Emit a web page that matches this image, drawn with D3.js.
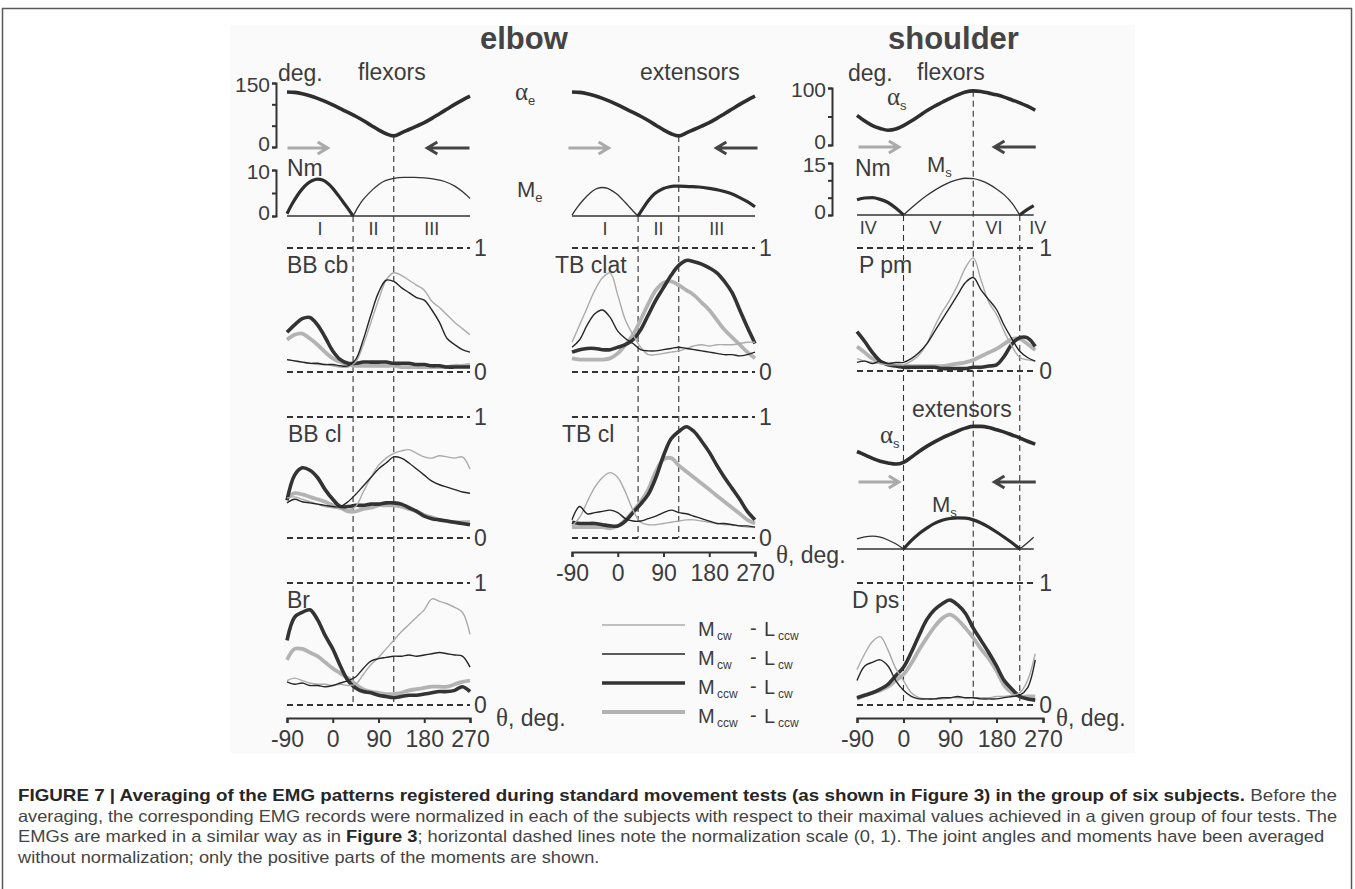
<!DOCTYPE html>
<html>
<head>
<meta charset="utf-8">
<script src="https://cdn.jsdelivr.net/npm/d3@7"></script>
<style>
  body { margin: 0; background: #fff; }
  text { font-family: "Liberation Sans", Arial, sans-serif; fill: #3c3c3c; }
</style>
</head>
<body>
<svg id="fig" width="1355" height="889"></svg>
<script>
// ---- angle grids (deg) ----
const thetaElbow = d3.range(-90, 271, 15);     // -90 .. 270
const thetaShoulder = d3.range(-90, 256, 15);  // -90 .. 255 (shoulder traces stop there)

// ---- joint angles (deg) ----
const elbowAngle = [129,128,125,120,114,107,99,90,81,72,62,51,40,31,26,33,41,49,57,67,78,89,100,110,119];
const shoulderFlexAngle = [52,42,34,29,26,28,34,42,51,60,68,75,82,88,93,95,94,91,88,84,79,74,68,61];
const shoulderExtAngle = [50,44,38,33,30,28,31,40,50,59,67,74,80,86,91,94,94,92,88,84,79,74,68,63];

// ---- joint moments (Nm), only positive parts, [deg, value] ----
const elbowFlexMomThick = [[-90,0.5],[-80,2.6],[-70,4.4],[-60,5.9],[-50,7.0],[-40,7.7],[-30,8.0],[-20,7.8],[-10,7.1],[0,6.0],[10,4.6],[20,3.1],[30,1.6],[40,0]];
const elbowFlexMomThin = [[40,0],[50,2.0],[60,3.6],[70,4.8],[80,5.9],[90,6.8],[100,7.5],[110,7.9],[120,8.2],[140,8.4],[160,8.4],[180,8.3],[200,8.0],[220,7.5],[240,6.5],[255,5.3],[270,3.8]];
const elbowExtMomThin = [[-90,0.2],[-80,1.8],[-70,3.2],[-60,4.4],[-50,5.4],[-40,6.0],[-30,6.2],[-20,6.0],[-10,5.4],[0,4.6],[10,3.5],[20,2.3],[30,1.1],[40,0]];
const elbowExtMomThick = [[40,0],[50,1.7],[60,3.3],[70,4.6],[80,5.4],[90,6.0],[100,6.3],[110,6.5],[120,6.5],[140,6.4],[160,6.3],[180,6.0],[200,5.6],[220,5.0],[240,4.0],[255,3.1],[270,2.0]];
const shFlexMomThick1 = [[-90,4.4],[-75,4.9],[-60,5.0],[-45,4.5],[-30,3.6],[-15,2.0],[0,0]];
const shFlexMomThin = [[0,0],[15,2.0],[30,3.9],[45,5.6],[60,7.1],[75,8.4],[90,9.5],[105,10.2],[120,10.6],[135,10.5],[150,9.9],[165,8.9],[180,7.5],[195,5.8],[210,3.4],[225,0]];
const shFlexMomThick2 = [[225,0],[240,1.6],[252,2.7]];
const shExtMomThin1 = [[-90,2.9],[-75,3.5],[-60,3.7],[-45,3.4],[-30,2.6],[-15,1.5],[0,0]];
const shExtMomThick = [[0,0],[15,2.4],[30,4.4],[45,6.0],[60,7.4],[75,8.3],[90,8.8],[105,9.0],[120,8.9],[135,8.4],[150,7.5],[165,6.3],[180,4.9],[195,3.4],[210,1.8],[225,0]];
const shExtMomThin2 = [[225,0],[240,1.8],[252,3.4]];

// ---- normalized EMG (0..1); cwccw = Mcw-Lccw, cwcw = Mcw-Lcw, ccwcw = Mccw-Lcw, ccwccw = Mccw-Lccw ----
const bbcb_cwccw  = [.10,.09,.08,.07,.06,.06,.05,.04,.04,.08,.22,.40,.58,.74,.80,.78,.74,.70,.66,.57,.52,.46,.40,.35,.30];
const bbcb_cwcw   = [.10,.09,.08,.07,.07,.06,.06,.05,.05,.10,.26,.46,.64,.74,.73,.68,.64,.60,.58,.50,.40,.27,.22,.18,.16];
const bbcb_ccwcw  = [.32,.38,.43,.44,.38,.28,.17,.10,.07,.07,.08,.08,.08,.08,.07,.07,.07,.06,.06,.05,.05,.04,.04,.04,.04];
const bbcb_ccwccw = [.26,.30,.31,.27,.22,.16,.11,.08,.06,.05,.05,.05,.05,.05,.05,.04,.04,.04,.04,.04,.04,.04,.05,.05,.06];

const bbcl_cwccw  = [.33,.34,.32,.30,.28,.26,.25,.24,.23,.26,.38,.50,.60,.66,.70,.72,.73,.70,.67,.66,.68,.67,.66,.67,.57];
const bbcl_cwcw   = [.29,.32,.30,.29,.28,.27,.26,.26,.30,.36,.43,.50,.57,.62,.67,.66,.62,.57,.52,.47,.44,.42,.40,.38,.37];
const bbcl_ccwcw  = [.31,.52,.58,.56,.50,.40,.32,.26,.26,.27,.27,.28,.28,.29,.29,.28,.25,.22,.18,.16,.15,.14,.13,.12,.11];
const bbcl_ccwccw = [.33,.37,.36,.34,.32,.30,.27,.25,.22,.22,.24,.25,.27,.27,.27,.26,.24,.22,.19,.17,.15,.14,.13,.13,.13];

const br_cwccw  = [.20,.22,.20,.18,.17,.17,.16,.17,.16,.17,.25,.33,.39,.46,.53,.60,.66,.72,.78,.87,.85,.83,.80,.76,.58];
const br_cwcw   = [.19,.17,.18,.16,.16,.15,.16,.18,.20,.23,.30,.36,.38,.39,.40,.40,.41,.40,.41,.42,.43,.42,.41,.40,.31];
const br_ccwcw  = [.53,.72,.76,.78,.70,.57,.46,.32,.20,.14,.11,.10,.08,.07,.06,.07,.08,.08,.09,.10,.11,.11,.12,.15,.11];
const br_ccwccw = [.37,.46,.46,.43,.40,.35,.30,.26,.22,.17,.13,.11,.10,.09,.09,.10,.12,.13,.14,.15,.15,.15,.17,.19,.20];

const tbclat_cwccw  = [.24,.38,.52,.66,.76,.80,.62,.42,.30,.20,.14,.14,.15,.16,.17,.19,.21,.22,.21,.22,.22,.22,.23,.24,.24];
const tbclat_cwcw   = [.20,.26,.38,.47,.50,.44,.33,.27,.23,.18,.17,.17,.18,.19,.20,.19,.18,.17,.16,.15,.14,.14,.13,.14,.16];
const tbclat_ccwcw  = [.16,.18,.19,.19,.18,.18,.20,.22,.26,.34,.46,.58,.68,.78,.86,.90,.89,.87,.84,.80,.73,.64,.50,.36,.23];
const tbclat_ccwccw = [.11,.10,.10,.10,.10,.11,.15,.22,.30,.42,.55,.66,.72,.73,.70,.66,.62,.56,.50,.42,.34,.28,.22,.16,.11];

const tbcl_cwccw  = [.10,.17,.30,.42,.50,.54,.50,.38,.23,.13,.11,.11,.12,.13,.14,.15,.15,.14,.13,.12,.11,.11,.10,.09,.09];
const tbcl_cwcw   = [.15,.26,.20,.21,.22,.23,.21,.16,.14,.14,.16,.18,.21,.23,.21,.20,.18,.16,.14,.12,.12,.11,.10,.10,.09];
const tbcl_ccwcw  = [.13,.12,.12,.12,.11,.10,.10,.14,.21,.28,.36,.50,.68,.82,.88,.92,.88,.80,.71,.60,.50,.41,.32,.22,.15];
const tbcl_ccwccw = [.09,.09,.09,.09,.09,.08,.10,.15,.22,.30,.40,.55,.65,.66,.60,.55,.50,.45,.40,.35,.30,.25,.20,.15,.12];

const ppm_cwccw  = [.10,.08,.07,.06,.05,.05,.05,.08,.13,.22,.36,.48,.58,.70,.84,.92,.74,.56,.46,.32,.20,.11,.09,.08];
const ppm_cwcw   = [.07,.08,.06,.08,.06,.07,.07,.10,.15,.22,.32,.42,.52,.62,.72,.76,.66,.58,.50,.37,.26,.16,.11,.08];
const ppm_ccwcw  = [.32,.24,.15,.08,.05,.04,.03,.03,.03,.03,.03,.02,.02,.02,.02,.03,.03,.04,.05,.12,.22,.27,.27,.20];
const ppm_ccwccw = [.20,.15,.10,.07,.06,.05,.04,.04,.04,.04,.04,.04,.05,.06,.07,.09,.12,.15,.18,.22,.26,.26,.22,.17];

const dps_cwccw  = [.29,.42,.52,.56,.45,.30,.20,.10,.06,.05,.05,.05,.06,.06,.06,.06,.06,.06,.07,.07,.08,.10,.20,.42];
const dps_cwcw   = [.20,.32,.35,.37,.32,.20,.12,.07,.05,.05,.05,.06,.06,.07,.06,.06,.05,.05,.05,.06,.07,.08,.14,.37];
const dps_ccwcw  = [.06,.08,.10,.13,.17,.24,.31,.43,.57,.70,.78,.83,.86,.82,.75,.63,.53,.43,.32,.20,.13,.07,.05,.04];
const dps_ccwccw = [.05,.08,.10,.12,.15,.20,.25,.34,.45,.55,.64,.71,.74,.70,.63,.55,.46,.38,.28,.16,.10,.07,.07,.07];

// ---- tick labels / phase labels ----
const thetaTicks = [-90, 0, 90, 180, 270];
const elbowBounds = [40, 120];
const shoulderBounds = [0, 135, 225];
const elbowPhases = [["I", -25], ["II", 80], ["III", 195]];
const shoulderPhases = [["IV", -68], ["V", 62], ["VI", 175], ["IV", 260]];

const captionLines = [
  [["FIGURE 7 | Averaging of the EMG patterns registered during standard movement tests (as shown in Figure 3) in the group of six subjects.", true], [" Before the", false]],
  [["averaging, the corresponding EMG records were normalized in each of the subjects with respect to their maximal values achieved in a given group of four tests. The", false]],
  [["EMGs are marked in a similar way as in ", false], ["Figure 3", true], ["; horizontal dashed lines note the normalization scale (0, 1). The joint angles and moments have been averaged", false]],
  [["without normalization; only the positive parts of the moments are shown.", false]]
];

// ================= drawing =================
const svg = d3.select('#fig');
const DARK = '#333';
const SERIF = '"Liberation Serif", "DejaVu Serif", serif';

svg.append('rect').attr('x', 2.5).attr('y', 8.5).attr('width', 1349).attr('height', 900)
  .attr('fill', '#fff').attr('stroke', '#5a5a5a').attr('stroke-width', 1.5);
svg.append('rect').attr('x', 230).attr('y', 25).attr('width', 905).attr('height', 728).attr('fill', '#fafafa');

const xFlex = d3.scaleLinear().domain([-90, 270]).range([287, 470]);
const xExt = d3.scaleLinear().domain([-90, 270]).range([572, 755]);
const xSh = d3.scaleLinear().domain([-90, 270]).range([857, 1043]);

const yElbowAng = d3.scaleLinear().domain([0, 150]).range([147, 83]);
const yElbowMom = d3.scaleLinear().domain([0, 10]).range([216, 170]);
const yShFlexAng = d3.scaleLinear().domain([0, 100]).range([145, 88]);
const yShFlexMom = d3.scaleLinear().domain([0, 15]).range([215, 163]);
const yShExtAng = d3.scaleLinear().domain([0, 100]).range([480, 423]);
const yShExtMom = d3.scaleLinear().domain([0, 15]).range([549, 497]);

const traceStyle = {
  cwccw:  { color: '#ababab', width: 1.4 },
  cwcw:   { color: '#262626', width: 1.4 },
  ccwcw:  { color: '#333333', width: 3.6 },
  ccwccw: { color: '#b3b3b3', width: 3.8 }
};
const drawOrder = ['ccwccw', 'ccwcw', 'cwccw', 'cwcw'];

function label(x, y, str, size = 23) {
  return svg.append('text').attr('x', x).attr('y', y).attr('font-size', size).text(str);
}

function subLabel(x, y, main, sub, serif) {
  const t = svg.append('text').attr('x', x).attr('y', y).attr('font-size', serif ? 25 : 22);
  if (serif) t.style('font-family', SERIF);
  t.append('tspan').text(main);
  t.append('tspan').attr('font-size', 13).attr('dy', 5).style('font-family', '"Liberation Sans", Arial, sans-serif').text(sub);
}

function vDash(x, y1, y2) {
  svg.append('line').attr('x1', x).attr('x2', x).attr('y1', y1).attr('y2', y2)
    .attr('stroke', DARK).attr('stroke-width', 1.1).attr('stroke-dasharray', '6,4');
}

function arrow(x1, x2, yy, color) {
  const dir = Math.sign(x2 - x1);
  svg.append('path')
    .attr('d', `M${x1},${yy}H${x2}M${x2 - dir * 10},${yy - 6}L${x2},${yy}L${x2 - dir * 10},${yy + 6}`)
    .attr('fill', 'none').attr('stroke', color).attr('stroke-width', 3);
}

function anglePanel(x, y, grid, values) {
  const line = d3.line().x((d, i) => x(grid[i])).y(d => y(d)).curve(d3.curveMonotoneX);
  svg.append('path').attr('d', line(values)).attr('fill', 'none')
    .attr('stroke', '#2e2e2e').attr('stroke-width', 3.6);
}

function momentPanel(x, y, endDeg, arcs) {
  svg.append('line').attr('x1', x(-90)).attr('x2', x(endDeg)).attr('y1', y(0)).attr('y2', y(0))
    .attr('stroke', DARK).attr('stroke-width', 1.6);
  const line = d3.line().x(d => x(d[0])).y(d => y(d[1])).curve(d3.curveMonotoneX);
  arcs.forEach(([pts, thick]) => {
    svg.append('path').attr('d', line(pts)).attr('fill', 'none')
      .attr('stroke', thick ? '#2e2e2e' : '#333').attr('stroke-width', thick ? 3.2 : 1.3);
  });
}

// y bracket; the bottom label is nudged up and the top one down so stacked brackets don't collide
function bracket(x, y, ticks) {
  const top = ticks[ticks.length - 1];
  const g = svg.append('g').attr('transform', `translate(${x},0)`)
    .call(d3.axisLeft(y).tickValues(ticks).tickSize(4).tickPadding(2)
      .tickFormat(d => (d === 0 || d === top) ? String(d) : ''));
  g.select('.domain').attr('stroke', DARK).attr('stroke-width', 2);
  g.selectAll('.tick line').attr('stroke', DARK).attr('stroke-width', 2);
  g.selectAll('.tick text').attr('font-size', 21).attr('fill', '#3c3c3c')
    .attr('y', d => d === 0 ? -3 : (d === top ? 2 : 0));
}

function bottomAxis(x, yy) {
  const g = svg.append('g').attr('transform', `translate(0,${yy})`)
    .call(d3.axisBottom(x).tickValues(thetaTicks).tickSize(5).tickPadding(8).tickFormat(d => String(d)));
  g.select('.domain').attr('stroke', DARK).attr('stroke-width', 2.2);
  g.selectAll('.tick line').attr('stroke', DARK).attr('stroke-width', 2);
  g.selectAll('.tick text').attr('font-size', 23).attr('fill', '#3c3c3c');
}

function thetaLabel(x, yy) {
  const t = svg.append('text').attr('x', x).attr('y', yy).attr('font-size', 23);
  t.append('tspan').style('font-family', SERIF).attr('font-size', 25).text('θ');
  t.append('tspan').text(', deg.');
}

function emgPanel(p) {
  const y = d3.scaleLinear().domain([0, 1]).range([p.y0, p.y1]);
  const xStart = p.x(-90), xEnd = p.x(p.grid[p.grid.length - 1]);
  [0, 1].forEach(v => {
    svg.append('line').attr('x1', xStart).attr('x2', xEnd).attr('y1', y(v)).attr('y2', y(v))
      .attr('stroke', DARK).attr('stroke-width', 2).attr('stroke-dasharray', '6,4');
    label(xEnd + 4, y(v) + 8, String(v));
  });
  label(xStart + p.dx, p.y1 + 25, p.name);
  const line = d3.line().x((d, i) => p.x(p.grid[i])).y(d => y(d)).curve(d3.curveCatmullRom.alpha(0.5));
  drawOrder.forEach(k => {
    svg.append('path').attr('d', line(p.series[k])).attr('fill', 'none')
      .attr('stroke', traceStyle[k].color).attr('stroke-width', traceStyle[k].width)
      .attr('stroke-linejoin', 'round');
  });
}

// titles
svg.append('text').attr('x', 480).attr('y', 49).attr('font-size', 31).attr('font-weight', 'bold')
  .style('fill', '#444').text('elbow');
svg.append('text').attr('x', 888).attr('y', 49).attr('font-size', 31).attr('font-weight', 'bold')
  .style('fill', '#444').text('shoulder');

// phase boundaries (dashed verticals)
vDash(xFlex(elbowBounds[0]), yElbowMom(0), 705);
vDash(xFlex(elbowBounds[1]), yElbowAng(d3.min(elbowAngle)), 705);
vDash(xExt(elbowBounds[0]), yElbowMom(0), 538);
vDash(xExt(elbowBounds[1]), yElbowAng(d3.min(elbowAngle)), 538);
vDash(xSh(shoulderBounds[0]), yShFlexMom(0), 705);
vDash(xSh(shoulderBounds[1]), yShFlexAng(d3.max(shoulderFlexAngle)), 705);
vDash(xSh(shoulderBounds[2]), yShFlexMom(0), 705);

// ---- elbow, flexor tests ----
label(278, 81, 'deg.');
label(358, 80, 'flexors');
bracket(276, yElbowAng, [0, 50, 100, 150]);
anglePanel(xFlex, yElbowAng, thetaElbow, elbowAngle);
arrow(xFlex(-89), xFlex(-10), 148, '#aaa');
arrow(xFlex(269), xFlex(186), 148, '#444');
label(287, 176, 'Nm');
bracket(276, yElbowMom, [0, 5, 10]);
momentPanel(xFlex, yElbowMom, 270, [[elbowFlexMomThick, true], [elbowFlexMomThin, false]]);
elbowPhases.forEach(([s, d]) => label(xFlex(d), 235, s, 18).attr('text-anchor', 'middle'));

// ---- elbow, extensor tests ----
label(640, 80, 'extensors');
subLabel(515, 100, 'α', 'e', true);
subLabel(517, 197, 'M', 'e', false);
anglePanel(xExt, yElbowAng, thetaElbow, elbowAngle);
arrow(xExt(-97), xExt(-18), 148, '#aaa');
arrow(xExt(275), xExt(194), 148, '#444');
momentPanel(xExt, yElbowMom, 270, [[elbowExtMomThin, false], [elbowExtMomThick, true]]);
elbowPhases.forEach(([s, d]) => label(xExt(d), 235, s, 18).attr('text-anchor', 'middle'));

// ---- shoulder, flexor tests ----
label(848, 81, 'deg.');
label(917, 80, 'flexors');
bracket(832, yShFlexAng, [0, 50, 100]);
subLabel(887, 105, 'α', 's', true);
anglePanel(xSh, yShFlexAng, thetaShoulder, shoulderFlexAngle);
arrow(xSh(-87), xSh(-9), 147, '#aaa');
arrow(xSh(256), xSh(176), 147, '#444');
label(855, 176, 'Nm');
subLabel(927, 172, 'M', 's', false);
bracket(832, yShFlexMom, [0, 5, 10, 15]);
momentPanel(xSh, yShFlexMom, 252, [[shFlexMomThick1, true], [shFlexMomThin, false], [shFlexMomThick2, true]]);
shoulderPhases.forEach(([s, d]) => label(xSh(d), 234, s, 18).attr('text-anchor', 'middle'));

// ---- shoulder, extensor tests ----
label(912, 417, 'extensors');
subLabel(880, 443, 'α', 's', true);
anglePanel(xSh, yShExtAng, thetaShoulder, shoulderExtAngle);
arrow(xSh(-87), xSh(-9), 482, '#aaa');
arrow(xSh(256), xSh(176), 482, '#444');
subLabel(932, 512, 'M', 's', false);
momentPanel(xSh, yShExtMom, 252, [[shExtMomThin1, false], [shExtMomThick, true], [shExtMomThin2, false]]);

// ---- EMG panels ----
const emgPanels = [
  { name: 'BB cb', x: xFlex, grid: thetaElbow, y0: 372, y1: 248, dx: 0,
    series: { cwccw: bbcb_cwccw, cwcw: bbcb_cwcw, ccwcw: bbcb_ccwcw, ccwccw: bbcb_ccwccw } },
  { name: 'BB cl', x: xFlex, grid: thetaElbow, y0: 538, y1: 417, dx: 1,
    series: { cwccw: bbcl_cwccw, cwcw: bbcl_cwcw, ccwcw: bbcl_ccwcw, ccwccw: bbcl_ccwccw } },
  { name: 'Br', x: xFlex, grid: thetaElbow, y0: 705, y1: 583, dx: 0,
    series: { cwccw: br_cwccw, cwcw: br_cwcw, ccwcw: br_ccwcw, ccwccw: br_ccwccw } },
  { name: 'TB clat', x: xExt, grid: thetaElbow, y0: 372, y1: 248, dx: -17,
    series: { cwccw: tbclat_cwccw, cwcw: tbclat_cwcw, ccwcw: tbclat_ccwcw, ccwccw: tbclat_ccwccw } },
  { name: 'TB cl', x: xExt, grid: thetaElbow, y0: 538, y1: 417, dx: -10,
    series: { cwccw: tbcl_cwccw, cwcw: tbcl_cwcw, ccwcw: tbcl_ccwcw, ccwccw: tbcl_ccwccw } },
  { name: 'P pm', x: xSh, grid: thetaShoulder, y0: 371, y1: 248, dx: 2,
    series: { cwccw: ppm_cwccw, cwcw: ppm_cwcw, ccwcw: ppm_ccwcw, ccwccw: ppm_ccwccw } },
  { name: 'D ps', x: xSh, grid: thetaShoulder, y0: 705, y1: 583, dx: -5,
    series: { cwccw: dps_cwccw, cwcw: dps_cwcw, ccwcw: dps_ccwcw, ccwccw: dps_ccwccw } }
];
emgPanels.forEach(emgPanel);

// ---- theta axes ----
bottomAxis(xFlex, 718);
bottomAxis(xExt, 552);
bottomAxis(xSh, 718);
thetaLabel(496, 726);
thetaLabel(776, 563);
thetaLabel(1056, 726);

// ---- legend ----
const legendItems = [['cwccw', 'cw', 'ccw'], ['cwcw', 'cw', 'cw'], ['ccwcw', 'ccw', 'cw'], ['ccwccw', 'ccw', 'ccw']];
const yLegend = d3.scalePoint().domain(legendItems.map(d => d[0])).range([625, 712]);
legendItems.forEach(([k, m, l]) => {
  const yy = yLegend(k);
  svg.append('line').attr('x1', 602).attr('x2', 685).attr('y1', yy).attr('y2', yy)
    .attr('stroke', traceStyle[k].color).attr('stroke-width', traceStyle[k].width);
  label(698, yy + 11, 'M', 20);
  label(717, yy + 15, m, 12);
  label(750, yy + 10, '-', 20);
  label(764, yy + 11, 'L', 20);
  label(778, yy + 15, l, 12);
});

// ---- caption ----
const capTargets = [1320, 1320, 1307, null];
const capNodes = captionLines.map((parts, i) => {
  const t = svg.append('text').attr('x', 0).attr('y', 0).attr('font-size', 16.5);
  parts.forEach(([s, b]) => t.append('tspan')
    .attr('font-weight', b ? 'bold' : null).attr('fill', b ? '#262626' : '#444').text(s));
  return t;
});
const baseScale = capTargets[1] / capNodes[1].node().getComputedTextLength();
capNodes.forEach((t, i) => {
  const w = t.node().getComputedTextLength();
  const sx = capTargets[i] ? capTargets[i] / w : baseScale;
  t.attr('transform', `translate(18,${801 + i * 20.5}) scale(${sx},1)`);
});
</script>
</body>
</html>
